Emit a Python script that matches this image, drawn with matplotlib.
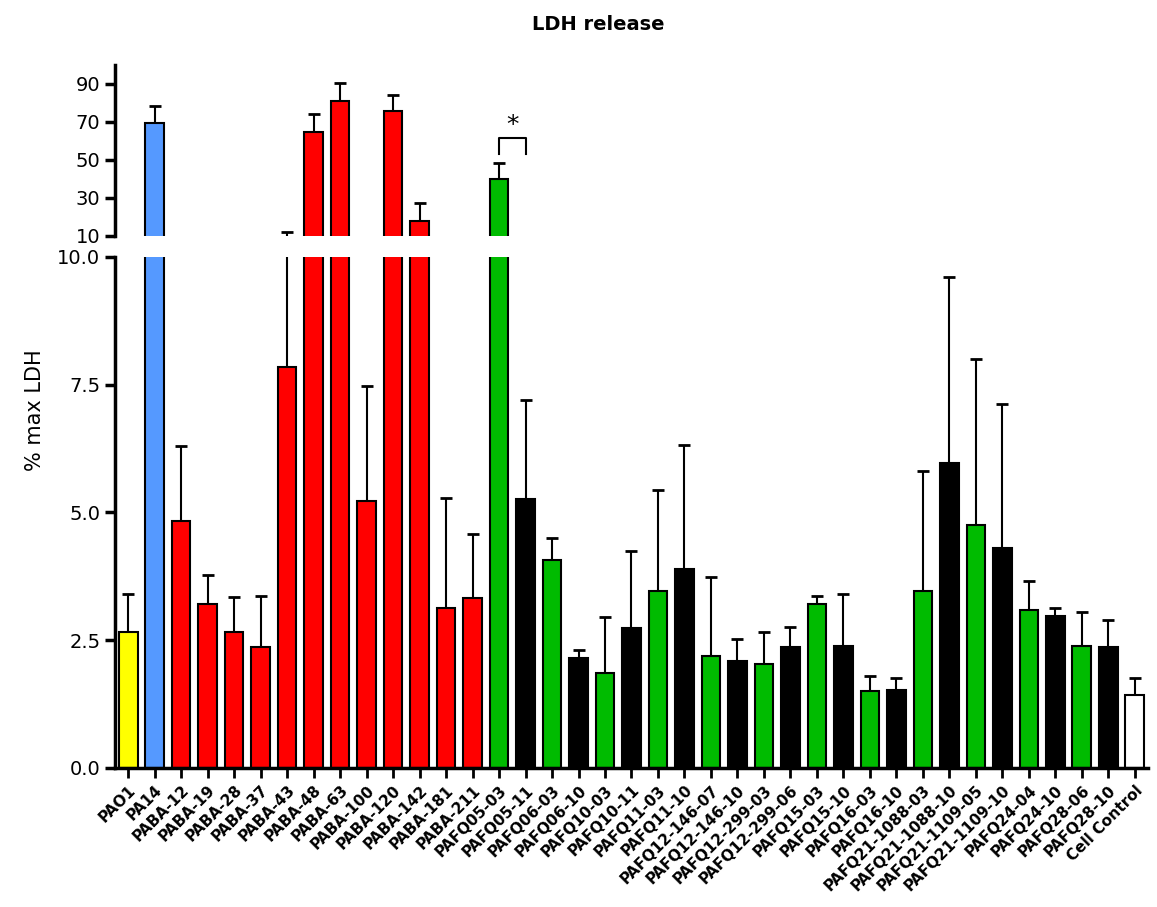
import numpy as np
import matplotlib
matplotlib.use('Agg')
import matplotlib.pyplot as plt

plt.rcParams['font.family'] = ['DejaVu Sans']

# strains, mean % max LDH and upper error (SD)
strains = ['PAO1', 'PA14', 'PABA-12', 'PABA-19', 'PABA-28', 'PABA-37', 'PABA-43',
           'PABA-48', 'PABA-63', 'PABA-100', 'PABA-120', 'PABA-142', 'PABA-181',
           'PABA-211', 'PAFQ05-03', 'PAFQ05-11', 'PAFQ06-03', 'PAFQ06-10',
           'PAFQ10-03', 'PAFQ10-11', 'PAFQ11-03', 'PAFQ11-10', 'PAFQ12-146-07',
           'PAFQ12-146-10', 'PAFQ12-299-03', 'PAFQ12-299-06', 'PAFQ15-03',
           'PAFQ15-10', 'PAFQ16-03', 'PAFQ16-10', 'PAFQ21-1088-03',
           'PAFQ21-1088-10', 'PAFQ21-1109-05', 'PAFQ21-1109-10', 'PAFQ24-04',
           'PAFQ24-10', 'PAFQ28-06', 'PAFQ28-10', 'Cell Control']
means = [2.67, 69.6, 4.83, 3.20, 2.67, 2.36, 7.84,
         64.8, 81.2, 5.23, 75.9, 17.9, 3.14,
         3.32, 39.9, 5.27, 4.07, 2.16,
         1.85, 2.73, 3.46, 3.89, 2.19,
         2.09, 2.04, 2.37, 3.20,
         2.39, 1.51, 1.52, 3.46,
         5.96, 4.75, 4.30, 3.09,
         2.98, 2.38, 2.37, 1.42]
err_top = [3.41, 78.5, 6.30, 3.77, 3.34, 3.37, 11.8,
           74.0, 90.3, 7.48, 84.0, 27.0, 5.28,
           4.58, 48.1, 7.20, 4.50, 2.31,
           2.95, 4.24, 5.43, 6.32, 3.73,
           2.53, 2.67, 2.75, 3.37,
           3.40, 1.79, 1.77, 5.82,
           9.61, 8.01, 7.13, 3.65,
           3.14, 3.06, 2.89, 1.77]
groups = ['ref', 'pa14'] + ['baa'] * 12 + ['fq_a', 'fq_b'] * 12 + ['ctrl']
group_colors = {'ref': '#FFFF00', 'pa14': '#5599FF', 'baa': '#FF0000',
                'fq_a': '#00BB00', 'fq_b': '#000000', 'ctrl': '#FFFFFF'}

x = np.arange(len(strains))
means = np.array(means)
err_top = np.array(err_top)
errs = err_top - means
colors = [group_colors[g] for g in groups]

fig = plt.figure(figsize=(11.57, 9.07), dpi=100)
ax_lo = fig.add_axes([0.0994, 0.1533, 0.8928, 0.5634])
ax_hi = fig.add_axes([0.0994, 0.7401, 0.8928, 0.1882])

for ax, show in ((ax_lo, means < 10), (ax_hi, err_top > 10)):
    ax.bar(x, means, width=0.7, color=colors, edgecolor='black', linewidth=1.5, zorder=2)
    ax.errorbar(x[show], means[show], yerr=[np.zeros(show.sum()), errs[show]], fmt='none',
                ecolor='black', elinewidth=1.5, capsize=4, capthick=2, zorder=1)
    ax.set_xlim(-0.5, len(strains) - 0.5)
    for s in ['top', 'right']:
        ax.spines[s].set_visible(False)
    ax.spines['left'].set_linewidth(2.5)
    ax.tick_params(axis='y', width=2.5, length=7, labelsize=14)

ax_lo.set_ylim(0, 10)
ax_lo.set_yticks([0, 2.5, 5.0, 7.5, 10.0])
ax_lo.set_yticklabels(['0.0', '2.5', '5.0', '7.5', '10.0'])
ax_lo.spines['bottom'].set_linewidth(2.5)
ax_lo.set_xticks(x)
ax_lo.set_xticklabels(strains, rotation=45, ha='right', rotation_mode='anchor',
                      fontsize=11, fontweight='bold')
ax_lo.tick_params(axis='x', width=2, length=7)

ax_hi.set_ylim(10, 100)
ax_hi.set_yticks([10, 30, 50, 70, 90])
ax_hi.spines['bottom'].set_visible(False)
ax_hi.set_xticks([])

# significance bracket between PAFQ05-03 and PAFQ05-11
ax_hi.plot([14, 14, 15, 15], [53, 61.7, 61.7, 53], color='black', linewidth=1.5)
ax_hi.text(14.5, 62, '*', ha='center', va='bottom', fontsize=18)

fig.text(598 / 1157, 1 - 24 / 907, 'LDH release', ha='center', va='center',
         fontsize=14, fontweight='bold')
fig.text(35 / 1157, 1 - 410 / 907, '% max LDH', rotation=90, ha='center',
         va='center', fontsize=15)

fig.savefig('out.png', dpi=100)
